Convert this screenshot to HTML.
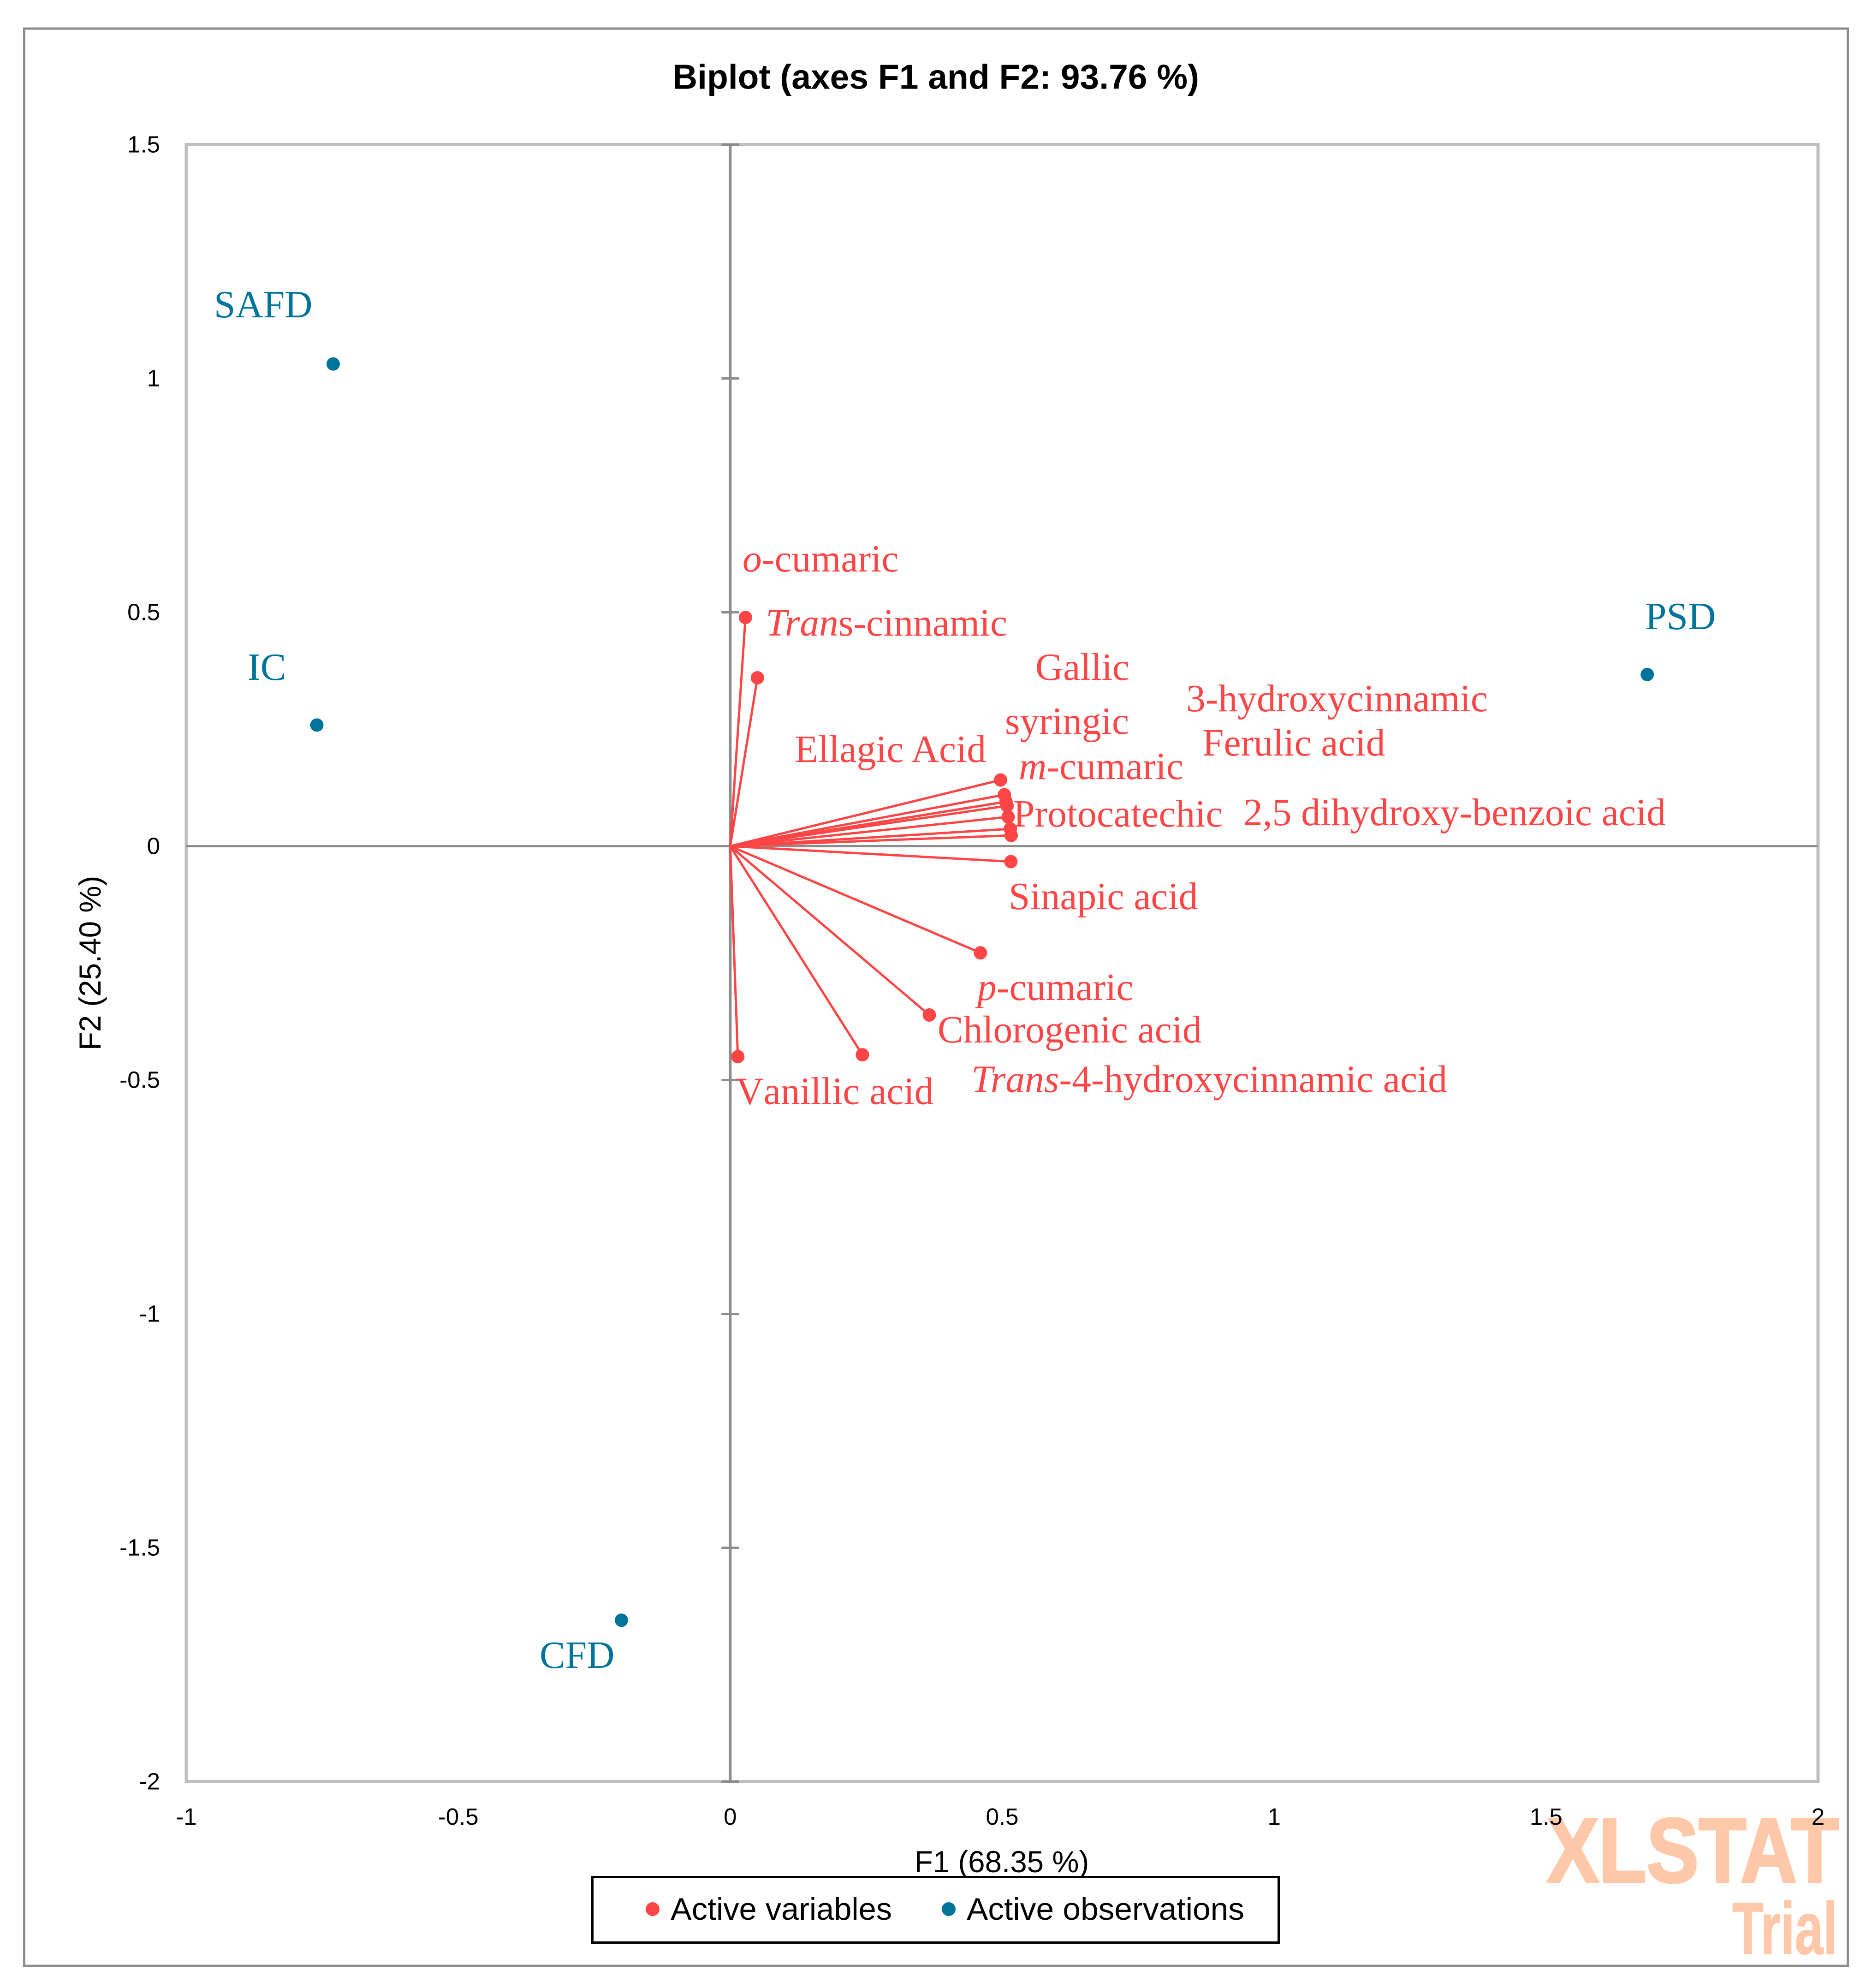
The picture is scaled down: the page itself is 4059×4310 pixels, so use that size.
<!DOCTYPE html>
<html lang="en">
<head>
<meta charset="utf-8">
<title>Biplot (axes F1 and F2: 93.76 %)</title>
<style>
  html, body { margin: 0; padding: 0; background: #ffffff; }
  svg { display: block; position: absolute; left: 0; top: 0; }
  .sans { font-family: "Liberation Sans", sans-serif; }
  .serif { font-family: "Liberation Serif", serif; font-size: 83.5px; }
  .var { fill: #FF4545; }
  .obs { fill: #00739B; }
  .i { font-style: italic; }
</style>
</head>
<body>
<svg id="chart" xmlns="http://www.w3.org/2000/svg" width="4059" height="4310" viewBox="0 0 4059 4310">
  <rect x="0" y="0" width="4059" height="4310" fill="#ffffff"/>
  <rect x="52.5" y="62" width="3954" height="4200" fill="none" stroke="#8C8C8C" stroke-width="5"/>
  <text class="sans" x="1458" y="192.5" font-size="75" font-weight="700" fill="#000">Biplot (axes F1 and F2: 93.76 %)</text>

  <g class="sans" font-weight="700" fill="#FFC8A8" stroke="#FFC8A8">
    <text x="3354" y="4080" font-size="198" stroke-width="5" textLength="633" lengthAdjust="spacingAndGlyphs">XLSTAT</text>
    <text x="3756" y="4236" font-size="160" stroke-width="2" textLength="228" lengthAdjust="spacingAndGlyphs">Trial</text>
  </g>

  <rect x="404" y="313.5" width="3538" height="3549" fill="none" stroke="#BFBFBF" stroke-width="7"/>

  <g id="axes"></g>
  <g id="ticks"></g>
  <g id="tick-labels" class="sans" font-size="51" fill="#000"></g>
  <g id="vectors"></g>
  <g id="points"></g>

  <g class="serif var">
    <text x="1610" y="1239"><tspan class="i">o</tspan>-cumaric</text>
    <text x="1660" y="1378"><tspan class="i">Tran</tspan>s-cinnamic</text>
    <text x="2245" y="1474">Gallic</text>
    <text x="2572" y="1542">3-hydroxycinnamic</text>
    <text x="2179" y="1591">syringic</text>
    <text x="2607" y="1638">Ferulic acid</text>
    <text x="1723" y="1652">Ellagic Acid</text>
    <text x="2209" y="1689"><tspan class="i">m</tspan>-cumaric</text>
    <text x="2197" y="1792">Protocatechic</text>
    <text x="2696" y="1789">2,5 dihydroxy-benzoic acid</text>
    <text x="2187" y="1971">Sinapic acid</text>
    <text x="2119" y="2168"><tspan class="i">p</tspan>-cumaric</text>
    <text x="2033" y="2260">Chlorogenic acid</text>
    <text x="2106" y="2367.5"><tspan class="i">Trans</tspan>-4-hydroxycinnamic acid</text>
    <text x="1595.5" y="2393.5" style="font-kerning:none">Vanillic acid</text>
  </g>
  <g class="serif obs">
    <text x="464" y="688">SAFD</text>
    <text x="537" y="1474">IC</text>
    <text x="1170" y="3616">CFD</text>
    <text x="3567" y="1364">PSD</text>
  </g>

  <text class="sans" x="2172" y="4059" font-size="65.5" text-anchor="middle" fill="#000">F1 (68.35 %)</text>
  <text class="sans" x="0" y="0" font-size="65.5" text-anchor="middle" fill="#000" transform="translate(218 2088) rotate(-90)">F2 (25.40 %)</text>

  <g>
    <rect x="1284.5" y="4069.5" width="1488" height="142" fill="#ffffff" stroke="#000" stroke-width="5"/>
    <circle cx="1415" cy="4139" r="15" fill="#FF4545"/>
    <text class="sans" x="1454" y="4162" font-size="68" textLength="480" lengthAdjust="spacingAndGlyphs" fill="#000">Active variables</text>
    <circle cx="2057" cy="4139" r="15" fill="#00739B"/>
    <text class="sans" x="2096" y="4162" font-size="68" textLength="602" lengthAdjust="spacingAndGlyphs" fill="#000">Active observations</text>
  </g>
</svg>

<script>
const xTickValues = [-1, -0.5, 0, 0.5, 1, 1.5, 2];
const yTickValues = [-2, -1.5, -1, -0.5, 0, 0.5, 1, 1.5];

const variableNames = ["o-cumaric", "trans-cinnamic", "ellagic-acid", "syringic", "gallic", "m-cumaric", "protocatechic", "3-hydroxycinnamic", "ferulic-acid", "sinapic-acid", "p-cumaric", "chlorogenic-acid", "trans-4-hydroxycinnamic-acid", "vanillic-acid"];
const variableF1 = [0.028, 0.050, 0.497, 0.504, 0.507, 0.509, 0.511, 0.515, 0.5165, 0.516, 0.460, 0.366, 0.243, 0.014];
const variableF2 = [0.489, 0.360, 0.1415, 0.110, 0.095, 0.0863, 0.0626, 0.037, 0.023, -0.033, -0.228, -0.361, -0.446, -0.450];

const observationNames = ["safd", "ic", "cfd", "psd"];
const observationF1 = [-0.730, -0.760, -0.200, 1.686];
const observationF2 = [1.031, 0.259, -1.655, 0.367];

const SVG_NS = "http://www.w3.org/2000/svg";
const X_MIN = -1, X_MAX = 2, Y_MIN = -2, Y_MAX = 1.5;
const PLOT_LEFT = 404, PLOT_RIGHT = 3942, PLOT_TOP = 313.5, PLOT_BOTTOM = 3862.5;

function xScale(v) { return PLOT_LEFT + (v - X_MIN) / (X_MAX - X_MIN) * (PLOT_RIGHT - PLOT_LEFT); }
function yScale(v) { return PLOT_BOTTOM - (v - Y_MIN) / (Y_MAX - Y_MIN) * (PLOT_BOTTOM - PLOT_TOP); }

function make(tag, attrs) {
  const el = document.createElementNS(SVG_NS, tag);
  for (const k in attrs) el.setAttribute(k, attrs[k]);
  return el;
}

const axesG = document.getElementById("axes");
const ticksG = document.getElementById("ticks");
const tickLabelsG = document.getElementById("tick-labels");
const vectorsG = document.getElementById("vectors");
const pointsG = document.getElementById("points");

const vAxis = make("line", { x1: xScale(0), x2: xScale(0), y1: PLOT_TOP, y2: PLOT_BOTTOM, stroke: "#8C8C8C", "stroke-width": 6 });


axesG.appendChild(vAxis);

const hAxis = make("line", { x1: PLOT_LEFT, x2: PLOT_RIGHT, y1: yScale(0), y2: yScale(0), stroke: "#8C8C8C", "stroke-width": 5 });


axesG.appendChild(hAxis);

yTickValues.forEach(function (v) {
  const t = make("line", { x1: xScale(0) - 19, x2: xScale(0) + 19, y1: yScale(v), y2: yScale(v), stroke: "#8C8C8C", "stroke-width": 5 });
  
  
  ticksG.appendChild(t);
  const lab = make("text", { x: 347, y: yScale(v) + 17, "text-anchor": "end" });
  
  
  lab.textContent = String(v);
  tickLabelsG.appendChild(lab);
});

xTickValues.forEach(function (v) {
  const lab = make("text", { x: xScale(v), y: 3956, "text-anchor": "middle" });
  
  
  lab.textContent = String(v);
  tickLabelsG.appendChild(lab);
});

variableNames.forEach(function (name, i) {
  const vec = make("line", { x1: xScale(0), y1: yScale(0), x2: xScale(variableF1[i]), y2: yScale(variableF2[i]), stroke: "#FF4545", "stroke-width": 5 });
  
  
  vectorsG.appendChild(vec);
  const pt = make("circle", { cx: xScale(variableF1[i]), cy: yScale(variableF2[i]), r: 14.5, fill: "#FF4545" });
  
  
  pointsG.appendChild(pt);
});

observationNames.forEach(function (name, i) {
  const pt = make("circle", { cx: xScale(observationF1[i]), cy: yScale(observationF2[i]), r: 14.5, fill: "#00739B" });
  
  
  pointsG.appendChild(pt);
});
</script>
</body>
</html>
